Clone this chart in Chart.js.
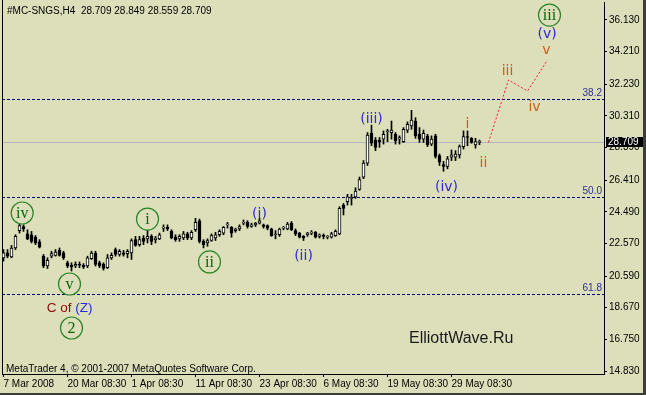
<!DOCTYPE html>
<html><head><meta charset="utf-8">
<script src="https://cdn.jsdelivr.net/npm/chart.js@4.4.0/dist/chart.umd.min.js"></script>
<style>
html,body{margin:0;padding:0;background:#3c3c3c;width:646px;height:395px;overflow:hidden;}
#wrap{position:absolute;left:0;top:0;width:643px;height:393px;}
</style></head><body>
<div id="wrap"><canvas id="c" width="643" height="393"></canvas></div>
<script>
// ---- data ----
const symbol = "#MC-SNGS,H4";
const opens = [
21.70,22.00,21.75,22.30,23.35,23.60,23.15,23.10,22.95,22.67,
21.80,21.20,21.80,21.85,22.15,22.00,21.40,21.25,21.20,21.30,
21.25,21.20,21.65,21.98,21.40,21.30,21.10,21.70,22.20,21.90,
22.00,21.95,22.00,22.80,22.50,22.90,22.85,23.00,22.80,22.85,
23.50,23.55,23.30,22.95,22.85,22.90,23.15,22.90,23.40,23.95,
22.70,22.60,22.75,22.90,23.10,23.20,23.70,23.55,23.35,23.45,
23.80,23.85,23.60,23.70,23.80,23.70,23.65,23.45,23.10,23.10,
23.50,23.45,23.80,23.35,23.20,23.00,23.10,23.20,23.25,23.00,
23.05,22.95,22.95,23.05,23.15,24.90,25.10,25.30,25.40,25.85,
26.60,27.45,29.25,28.85,28.85,28.90,29.35,29.30,29.20,28.90,
28.75,29.45,29.70,30.00,29.20,28.90,29.10,28.60,29.10,27.90,
27.35,27.25,27.80,27.80,27.95,28.45,29.05,28.95,28.55,28.709];
const highs = [
22.20,22.20,22.45,23.10,23.83,23.70,23.40,23.30,23.05,22.80,
21.90,21.70,22.10,22.20,22.30,22.10,21.50,21.40,21.45,21.45,
21.35,21.80,22.10,22.10,21.50,21.40,21.90,22.00,22.30,22.20,
22.15,22.20,22.85,23.00,23.00,23.05,23.40,23.10,23.00,23.20,
23.70,23.70,23.40,23.10,23.10,23.30,23.25,23.35,24.10,24.05,
22.80,22.85,23.15,23.25,23.40,23.60,23.85,23.60,23.50,23.70,
24.00,23.95,23.80,23.85,24.10,23.75,23.70,23.50,23.35,23.50,
23.60,23.85,23.90,23.45,23.25,23.05,23.25,23.35,23.30,23.15,
23.15,23.05,23.25,23.40,24.80,25.00,25.55,25.55,25.95,26.60,
27.60,29.30,29.75,29.00,29.00,29.40,29.50,30.00,29.30,29.10,
29.60,29.95,30.65,30.20,29.60,29.45,29.20,29.10,29.20,28.00,
27.55,27.85,28.25,28.20,28.55,29.40,29.40,29.00,28.95,28.849];
const lows = [
21.50,21.70,21.70,22.20,23.20,23.30,22.80,22.60,22.50,22.30,
21.10,21.05,21.70,21.80,21.80,21.60,21.10,20.90,21.10,21.10,
21.05,21.10,21.60,21.20,21.10,20.95,21.05,21.60,21.80,21.80,
21.80,21.70,21.60,22.40,22.40,22.50,22.60,22.50,22.60,22.80,
23.30,23.35,22.85,22.70,22.70,22.80,22.80,22.80,23.30,22.60,
22.30,22.40,22.70,22.75,23.00,23.10,23.50,22.95,23.25,23.35,
23.70,23.50,23.55,23.60,23.75,23.50,23.40,23.00,22.85,23.00,
23.40,23.40,23.35,23.05,22.90,22.75,23.00,23.10,22.90,22.90,
22.85,22.85,22.90,23.00,23.10,24.30,24.90,24.90,25.30,25.80,
26.50,27.30,28.50,28.20,28.40,28.60,28.75,28.90,28.60,28.60,
28.70,29.30,29.50,28.95,28.70,28.70,28.45,28.50,27.75,27.30,
26.95,27.10,27.60,27.60,27.75,28.30,28.50,28.65,28.35,28.559];
const closes = [
22.00,21.80,22.29,23.00,23.65,23.45,22.85,22.70,22.60,22.35,
21.20,21.55,21.95,22.05,21.85,21.70,21.20,21.15,21.30,21.25,
21.15,21.70,21.98,21.30,21.20,21.05,21.70,21.85,21.90,22.10,
21.90,22.10,22.75,22.45,22.80,22.70,23.00,22.70,22.90,23.10,
23.55,23.45,22.90,22.80,23.00,23.15,22.90,23.25,23.85,22.70,
22.50,22.75,23.05,23.10,23.30,23.55,23.75,23.20,23.45,23.60,
23.85,23.60,23.70,23.80,23.95,23.60,23.50,23.05,23.15,23.45,
23.55,23.75,23.40,23.15,22.95,22.90,23.20,23.25,22.95,23.10,
23.00,23.00,23.15,23.30,24.70,24.70,25.40,25.35,25.75,26.45,
27.45,29.15,28.65,28.40,28.75,29.20,29.40,29.45,28.80,29.00,
29.50,29.80,30.05,29.10,28.90,29.25,28.55,28.90,27.85,27.50,
27.25,27.70,27.95,28.00,28.45,29.05,29.00,28.70,28.75,28.709];

const tickBars = [0,16,32,48,64,80,96,112];
const tickLabels = ["7 Mar 2008","20 Mar 08:30","1 Apr 08:30","11 Apr 08:30","23 Apr 08:30","6 May 08:30","19 May 08:30","29 May 08:30"];
const priceTicks = [36.13,34.21,32.23,30.31,28.39,26.41,24.49,22.57,20.59,18.67,16.75,14.83];

const fibNames = ["38.2","50.0","61.8"];
const fibPrices = [31.34,25.39,19.50];

const projBars = [121.25,126.25,131,136];
const projPrices = [28.71,32.49,31.82,33.70];

const waveTexts  = ["iv","v","2","i","ii","iii","(i)","(ii)","(iii)","(iv)","(v)","i","ii","iii","iv","v"];
const waveBars   = [4.67,16.5,17.0,36,51.5,136.5,64,75,92,110.75,135.9,116,120,126,132.75,135.75];
const wavePrices = [24.42,20.11,17.44,24.05,21.45,36.43,24.42,21.87,30.18,26.06,35.34,29.88,27.51,33.10,30.91,34.37];
const waveKinds  = ["circle","circle","circle","circle","circle","circle","blue","blue","blue","blue","blue","choc","choc","choc","choc","choc"];
const czBar = 16.5, czPrice = 18.65;

// ---- styles ----
const BG = "#dddfba";
const FIB = "#000080";
const KIND = {
  circle:{font:"16px 'Liberation Serif'", color:"#0b650b"},
  blue:{font:"14px 'DejaVu Sans'", color:"#3228d2"},
  choc:{font:"14px 'DejaVu Sans'", color:"#c8601c"}
};
const AX_FONT = {family:"'Liberation Sans'", size:10};

const last = closes.length - 1;

const bgPlugin = {
  id:'bg',
  beforeDraw(chart){
    const c = chart.ctx;
    c.save(); c.fillStyle = BG; c.fillRect(0,0,chart.width,chart.height); c.restore();
  },
  beforeDatasetsDraw(chart){
    const c = chart.ctx, a = chart.chartArea, y = chart.scales.y;
    c.save();
    c.lineWidth = 1;
    // current price line
    const py = Math.round(y.getPixelForValue(closes[last])) + 0.5;
    c.strokeStyle = "#b4b4bc";
    c.beginPath(); c.moveTo(a.left, py); c.lineTo(a.right, py); c.stroke();
    // fib levels
    c.strokeStyle = FIB; c.setLineDash([3,2]);
    c.font = "10px 'Liberation Sans'"; c.fillStyle = "#303090";
    c.textAlign = "right"; c.textBaseline = "bottom";
    fibPrices.forEach((p,k)=>{
      const fy = Math.round(y.getPixelForValue(p)) + 0.5;
      c.beginPath(); c.moveTo(a.left, fy); c.lineTo(a.right, fy); c.stroke();
      c.fillText(fibNames[k], a.right - 2, fy - 1);
    });
    c.setLineDash([]);
    // left border
    c.strokeStyle = "#000";
    c.beginPath(); c.moveTo(a.left + 0.5, 0); c.lineTo(a.left + 0.5, a.bottom); c.stroke();
    c.restore();
  },
  afterDatasetsDraw(chart){
    const c = chart.ctx, x = chart.scales.x, y = chart.scales.y;
    c.save();
    c.textAlign = "center"; c.textBaseline = "middle";
    waveTexts.forEach((t,k)=>{
      const st = KIND[waveKinds[k]];
      const px = x.getPixelForValue(waveBars[k]);
      const py = y.getPixelForValue(wavePrices[k]);
      if (waveKinds[k] === "circle") {
        c.fillStyle = BG;
        c.beginPath(); c.arc(px, py, 11, 0, Math.PI*2); c.fill();
        c.strokeStyle = "#2a852a"; c.lineWidth = 1.2;
        c.beginPath(); c.arc(px, py, 11, 0, Math.PI*2); c.stroke();
      }
      c.font = st.font; c.fillStyle = st.color;
      c.fillText(t, px, py + 1);
    });
    // "C of (Z)"
    c.font = "13.5px 'Liberation Sans'";
    const p1 = "C of ", p2 = "(Z)";
    const w1 = c.measureText(p1).width, w2 = c.measureText(p2).width;
    const cx = x.getPixelForValue(czBar), cy = y.getPixelForValue(czPrice);
    c.textAlign = "left";
    c.fillStyle = "#8b0a0a"; c.fillText(p1, cx - (w1+w2)/2, cy);
    c.fillStyle = "#2a2ae6"; c.fillText(p2, cx - (w1+w2)/2 + w1, cy);
    c.restore();
  },
  afterDraw(chart){
    const c = chart.ctx, a = chart.chartArea, y = chart.scales.y;
    c.save();
    // current price box
    const py = Math.round(y.getPixelForValue(closes[last]));
    c.fillStyle = "#000"; c.fillRect(a.right + 2, py - 5, 37, 10);
    c.fillStyle = "#fff"; c.font = "10px 'Liberation Sans'";
    c.textAlign = "left"; c.textBaseline = "middle";
    c.fillText(closes[last].toFixed(3), a.right + 4, py);
    // title
    c.fillStyle = "#000";
    c.fillText(symbol + "  " + [opens[last],highs[last],lows[last],closes[last]].map(v=>v.toFixed(3)).join(" "), 7, 11);
    // copyright
    c.fillText("MetaTrader 4, \u00A9 2001-2007 MetaQuotes Software Corp.", 6, 369);
    // watermark
    c.font = "16px 'Liberation Sans'"; c.fillStyle = "#1a1a1a";
    c.fillText("ElliottWave.Ru", 409, 339);
    c.restore();
  }
};

const bodies = opens.map((o,i)=>({x:i, y:[o, closes[i]]}));
const wicks = lows.map((l,i)=>({x:i, y:[l, highs[i]]}));

new Chart(document.getElementById('c').getContext('2d'), {
  type:'bar',
  data:{datasets:[
    {type:'line', data: projBars.map((b,i)=>({x:b, y:projPrices[i]})), borderColor:"#ee1a40", borderWidth:1,
     borderDash:[2,2], pointRadius:0, tension:0, fill:false, order:0},
    {data:bodies, backgroundColor: opens.map((o,i)=> closes[i] >= o ? "#ffffff" : "#000000"),
     borderColor:"#000", borderWidth:1, borderSkipped:false, barThickness:3, minBarLength:1, grouped:false, order:1},
    {data:wicks, backgroundColor:"#000", borderWidth:0, barThickness:1, grouped:false, order:2}
  ]},
  options:{
    responsive:false, animation:false, devicePixelRatio:1,
    layout:{padding:{left:2, top:2, right:0, bottom:0}},
    plugins:{legend:{display:false}, tooltip:{enabled:false}},
    scales:{
      x:{type:'linear', min:-0.375, max:150.125, offset:false, position:'bottom',
         grid:{drawOnChartArea:false, drawTicks:true, tickLength:3, color:"#000", offset:false},
         border:{display:true, color:"#000"},
         ticks:{align:'start', autoSkip:false, maxRotation:0, minRotation:0, padding:1, color:"#000", font:AX_FONT,
                callback:(v)=>{const k = tickBars.indexOf(v); return k >= 0 ? tickLabels[k] : "";}},
         afterBuildTicks:(s)=>{ s.ticks = tickBars.map(v=>({value:v})); },
         afterFit:(s)=>{ s.height = 19; s.paddingLeft = 0; s.paddingRight = 0; }},
      y:{type:'linear', position:'right', min:14.6493, max:37.2222, beginAtZero:false,
         grid:{drawOnChartArea:false, drawTicks:true, tickLength:3, color:"#000"},
         border:{display:true, color:"#000"},
         ticks:{padding:2, color:"#000", font:AX_FONT, callback:(v)=>Number(v).toFixed(3)},
         afterBuildTicks:(s)=>{ s.ticks = priceTicks.map(v=>({value:v})); },
         afterFit:(s)=>{ s.width = 39; s.paddingTop = 0; s.paddingBottom = 0; }}
    }
  },
  plugins:[bgPlugin]
});
</script>
</body></html>
